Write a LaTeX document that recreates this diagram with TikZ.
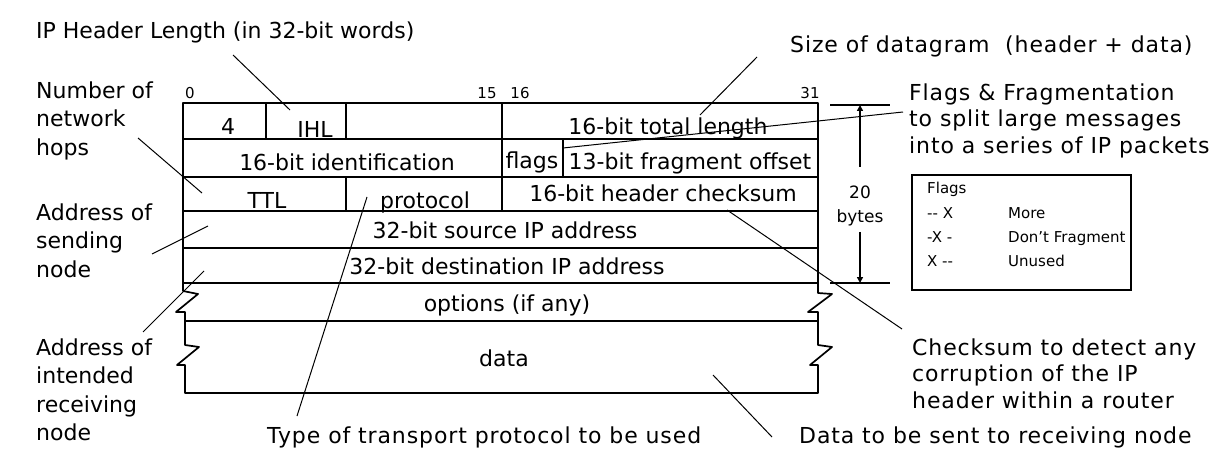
\documentclass[tikz,border=0pt]{standalone}
\usepackage{fontspec}
\setmainfont{DejaVu Sans}
\usetikzlibrary{arrows.meta}
\begin{document}
\begin{tikzpicture}[x=1pt,y=-1pt,
  lbl/.style={font=\fontsize{22}{28.5}\selectfont, inner sep=0, align=left, anchor=north west},
  wlbl/.style={font=\fontsize{22}{26.5}\selectfont\addfontfeature{LetterSpace=4}, inner sep=0, align=left, anchor=north west},
  fld/.style={font=\fontsize{22}{26}\selectfont, inner sep=0, anchor=base},
  bitno/.style={font=\fontsize{15}{17}\selectfont, inner sep=0},
  leg/.style={font=\fontsize{15}{17}\selectfont, inner sep=0, anchor=base west},
  frame/.style={line width=1.7pt, line join=round},
  ptr/.style={line width=1pt},
  dim/.style={line width=1.5pt},
  tip/.style={-{Triangle[length=6pt,width=6pt]}}
]
\fill[white] (0,0) rectangle (1220,462);
\useasboundingbox (0,0) rectangle (1220,462);

% ---- header table ----
\draw[frame] (183,103) rectangle (818,283);
\foreach \yy in {139,177,211,248} \draw[frame] (183,\yy) -- (818,\yy);
\draw[frame] (266,103) -- (266,139);
\draw[frame] (346,103) -- (346,139);
\draw[frame] (502,103) -- (502,211);
\draw[frame] (563,139) -- (563,177);
\draw[frame] (346,177) -- (346,211);
% options / data with torn edges
\draw[frame] (183,283) -- (183,291) -- (198,294) -- (176,312) -- (185,312) -- (185,345)
  -- (199,347) -- (177,365) -- (185,365) -- (185,393) -- (818,393) -- (818,365)
  -- (810,365) -- (832,347) -- (818,345) -- (818,312) -- (808,312) -- (832,294)
  -- (818,293) -- (818,283);
\draw[frame] (185,321) -- (818,321);

% bit numbers
\node[bitno] (b0) at (190,93) {0};
\node[bitno] (b15) at (487,93) {15};
\node[bitno] (b16) at (520,93) {16};
\node[bitno] (b31) at (810,93) {31};

% fields
\node[fld] (v4) at (228,135) {4};
\node[fld] (ihl) at (315,138) {IHL};
\node[fld] (tlen) at (668,135) {16-bit total length};
\node[fld] (ident) at (347,171) {16-bit identification};
\node[fld] (flg) at (532,169) {flags};
\node[fld] (frag) at (690,170) {13-bit fragment offset};
\node[fld] (ttl) at (267,209) {TTL};
\node[fld] (proto) at (425,209) {protocol};
\node[fld] (csum) at (663,202) {16-bit header checksum};
\node[fld] (src) at (505,239) {32-bit source IP address};
\node[fld] (dst) at (507,275) {32-bit destination IP address};
\node[fld] (opt) at (507,311) {options (if any)};
\node[fld] (data) at (504,366) {data};

% ---- annotations ----
\node[lbl] (ihlnote) at (36,22) {IP Header Length (in 32-bit words)};
\node[wlbl] (sizenote) at (790,36) {Size of datagram\ \ (header + data)};
\node[lbl] (hops) at (36,81.3) {Number of\\network\\hops};
\node[lbl] (send) at (36,203.3) {Address of\\sending\\node};
\node[lbl] (recv) at (36,338.3) {Address of\\intended\\receiving\\node};
\node[wlbl] (fragnote) at (909,83.3) {Flags \& Fragmentation\\to split large messages\\into a series of IP packets};
\node[wlbl] (csumnote) at (912,338.3) {Checksum to detect any\\corruption of the IP\\header within a router};
\node[wlbl] (typenote) at (267,426.3) {Type of transport protocol to be used};
\node[wlbl] (datanote) at (799,426.3) {Data to be sent to receiving node};

% pointer end points
\coordinate (pIHLa) at (233,55);   \coordinate (pIHLb) at (290,110);
\coordinate (pSIZa) at (757,57);   \coordinate (pSIZb) at (700,115);
\coordinate (pFRGa) at (903,112);  \coordinate (pFRGb) at (563,148);
\coordinate (pHOPa) at (138,138);  \coordinate (pHOPb) at (202,193);
\coordinate (pSNDa) at (152,254);  \coordinate (pSNDb) at (208,226);
\coordinate (pRCVa) at (143,332);  \coordinate (pRCVb) at (204,271);
\coordinate (pTYPa) at (297,416);  \coordinate (pTYPb) at (367,197);
\coordinate (pCSMa) at (902,329);  \coordinate (pCSMb) at (727,210);
\coordinate (pDATa) at (772,437);  \coordinate (pDATb) at (713,375);
\draw[ptr] (pIHLa) -- (pIHLb);
\draw[ptr] (pSIZa) -- (pSIZb);
\draw[ptr] (pFRGa) -- (pFRGb);
\draw[ptr] (pHOPa) -- (pHOPb);
\draw[ptr] (pSNDa) -- (pSNDb);
\draw[ptr] (pRCVa) -- (pRCVb);
\draw[ptr] (pTYPa) -- (pTYPb);
\draw[ptr] (pCSMa) -- (pCSMb);
\draw[ptr] (pDATa) -- (pDATb);

% ---- 20 bytes dimension ----
\coordinate (dTL) at (830,105); \coordinate (dTR) at (890,105);
\coordinate (dBL) at (830,283); \coordinate (dBR) at (890,283);
\coordinate (dT) at (860,105);  \coordinate (dB) at (860,283);
\coordinate (dU) at (860,167);  \coordinate (dL) at (860,232);
\draw[dim] (dTL) -- (dTR);
\draw[dim] (dBL) -- (dBR);
\draw[dim,tip] (dU) -- (dT);
\draw[dim,tip] (dL) -- (dB);
\node[font=\fontsize{17}{24}\selectfont, inner sep=0, align=center, anchor=north] (dimtxt) at (860,185.5) {20\\bytes};

% ---- flags legend ----
\draw[line width=1.5pt] (912,175) rectangle (1131,290);
\node[leg] (lgF) at (927,194) {Flags};
\node[leg] (lg1) at (927,219) {-{}- X};
\node[leg] (lg2) at (927,243) {-X -};
\node[leg] (lg3) at (927,267) {X -{}-};
\node[leg] (lg1t) at (1008,219) {More};
\node[leg] (lg2t) at (1008,243) {Don't Fragment};
\node[leg] (lg3t) at (1008,267) {Unused};
\end{tikzpicture}
\end{document}
